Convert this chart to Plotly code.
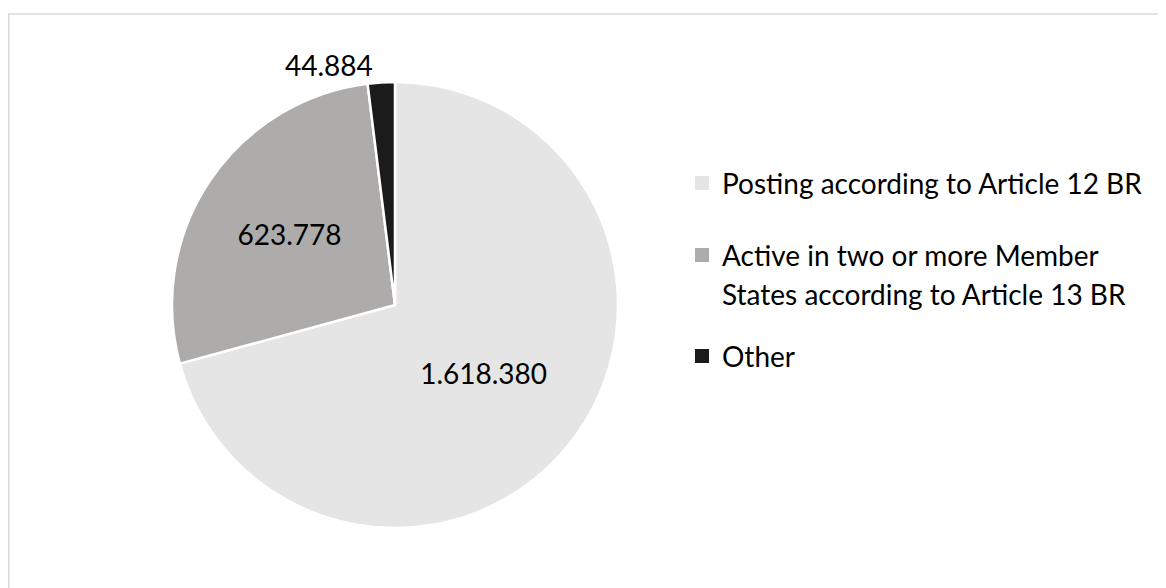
import plotly.graph_objects as go

categories = ["Posting according to Article 12 BR",
              "Active in two or more Member States according to Article 13 BR",
              "Other"]
legend_labels = ["Posting according to Article 12 BR",
                 "Active in two or more Member<br>States according to Article 13 BR",
                 "Other"]
values = [1618380, 623778, 44884]
colors = ["#e6e5e5", "#aeabab", "#1b1b1b"]
text_positions = ["inside", "inside", "outside"]

W, H = 1166, 588
FONT = "Lato"

# pie geometry (pixels, figure coordinates)
cx, cy, r = 387, 297, 223

fig = go.Figure()
fig.add_trace(go.Pie(
    labels=categories,
    values=values,
    sort=False,
    direction="clockwise",
    rotation=0,
    marker=dict(colors=colors, line=dict(color="white", width=2.5)),
    texttemplate="%{value:,.0f}",
    textposition=text_positions,
    insidetextorientation="horizontal",
    textfont=dict(family=FONT, size=28, color="#000000"),
    outsidetextfont=dict(family=FONT, size=28, color="#000000"),
    hoverinfo="skip",
    showlegend=False,
    domain=dict(x=[(cx - r) / W, (cx + r) / W],
                y=[1 - (cy + r) / H, 1 - (cy - r) / H]),
))

# custom legend (text from legend_labels, colours from colors)
legend_x_sq = 687
legend_x_txt = 712
first_line_y = [175, 247, 348]   # first text line centres
line_gap = 39
sq = 14
shapes = [dict(type="rect", xref="paper", yref="paper",
               x0=0.75 / W, x1=1190 / W, y0=1 - 6 / H, y1=1 - 620 / H,
               line=dict(color="#d9d9d9", width=1.5), fillcolor="rgba(0,0,0,0)", layer="below")]
annotations = []
for lab, col, y1 in zip(legend_labels, colors, first_line_y):
    shapes.append(dict(type="rect", xref="paper", yref="paper",
                       x0=legend_x_sq / W, x1=(legend_x_sq + sq) / W,
                       y0=1 - (y1 - sq / 2) / H, y1=1 - (y1 + sq / 2) / H,
                       line=dict(width=0), fillcolor=col))
    for i, line in enumerate(lab.split("<br>")):
        annotations.append(dict(xref="paper", yref="paper", x=legend_x_txt / W,
                                y=1 - (y1 + i * line_gap) / H,
                                xanchor="left", yanchor="middle", align="left", showarrow=False,
                                text=line, font=dict(family=FONT, size=28, color="#000000")))

fig.update_layout(
    width=W, height=H,
    margin=dict(l=0, r=0, t=0, b=0),
    paper_bgcolor="white",
    separators=",.",
    shapes=shapes,
    annotations=annotations,
)

fig.write_html("out.html")
